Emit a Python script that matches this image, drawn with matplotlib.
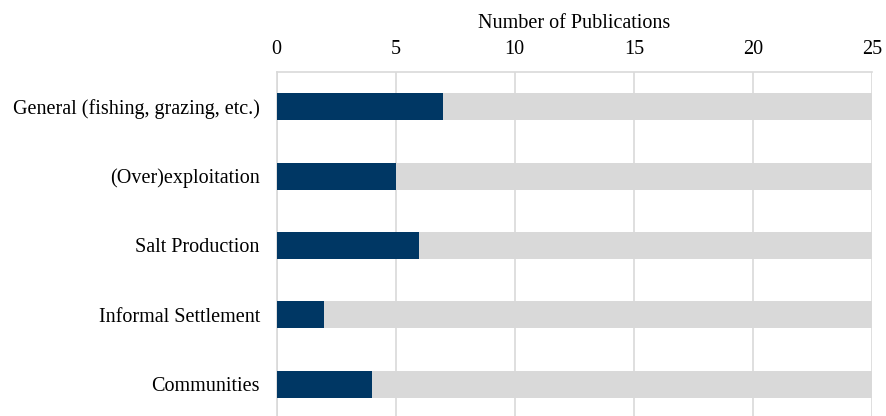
import matplotlib.pyplot as plt

plt.rcParams['font.family'] = ['Liberation Serif', 'DejaVu Serif']

# data
categories = ['General (fishing, grazing, etc.)', '(Over)exploitation', 'Salt Production',
              'Informal Settlement', 'Communities']
counts = [7, 5, 6, 2, 4]
total = 25

fig = plt.figure(figsize=(8.86, 4.16), dpi=100)
ax = fig.add_axes([276.5 / 886, -3 / 416, (872 - 276.5) / 886, (416 - 72 + 3) / 416])

ypos = list(range(len(categories)))
ax.barh(ypos, [total] * len(categories), height=0.39, color='#d9d9d9', zorder=2)
ax.barh(ypos, counts, height=0.39, color='#003764', zorder=3)

ax.set_xlim(0, 25)
ax.set_ylim(len(categories) - 0.5, -0.5)
ax.set_xticks([0, 5, 10, 15, 20, 25])
ax.set_yticks(ypos)
ax.set_yticklabels(categories)
ax.xaxis.tick_top()
ax.xaxis.set_label_position('top')
ax.set_xlabel('Number of Publications', fontsize=14.5, labelpad=9)
ax.tick_params(axis='x', length=0, labelsize=14.5, pad=9)
ax.tick_params(axis='y', length=0, labelsize=14.5, pad=12)
ax.grid(axis='x', color='#d9d9d9', linewidth=1.2, zorder=0)
for s in ['right', 'bottom']:
    ax.spines[s].set_visible(False)
for s in ['top', 'left']:
    ax.spines[s].set_color('#d9d9d9')
    ax.spines[s].set_linewidth(1.2)

fig.savefig('out.png', dpi=100)
